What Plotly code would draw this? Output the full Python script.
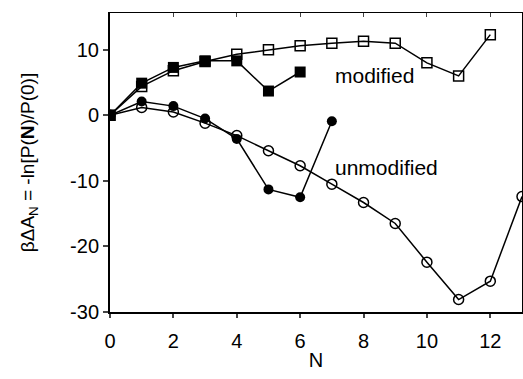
import plotly.graph_objects as go

N_mod_open = list(range(0, 13))
mod_open = [0, 4.4, 6.8, 8.2, 9.3, 10.0, 10.6, 11.0, 11.3, 11.0, 8.0, 6.0, 12.3]

N_mod_fill = list(range(0, 7))
mod_fill = [0, 4.9, 7.3, 8.3, 8.3, 3.7, 6.6]

N_unmod_open = list(range(0, 14))
unmod_open = [0, 1.2, 0.5, -1.2, -3.1, -5.4, -7.7, -10.5, -13.3, -16.5, -22.4, -28.1, -25.3, -12.4]

N_unmod_fill = list(range(0, 8))
unmod_fill = [0, 2.1, 1.4, -0.5, -3.6, -11.3, -12.5, -0.9]

x_ticks = [0, 2, 4, 6, 8, 10, 12]
y_ticks = [-30, -20, -10, 0, 10]
y_tick_text = ["-30", "-20", "-10", "0", "10"]

FONT = "Liberation Sans, Arial, sans-serif"
line = dict(color="black", width=1.5)

fig = go.Figure()
fig.add_trace(go.Scatter(x=N_unmod_open, y=unmod_open, mode="lines+markers", line=line,
                         marker=dict(symbol="circle-open", size=10, color="black", line=dict(width=1.5))))
fig.add_trace(go.Scatter(x=N_unmod_fill, y=unmod_fill, mode="lines+markers", line=line,
                         marker=dict(symbol="circle", size=10, color="black")))
fig.add_trace(go.Scatter(x=N_mod_open, y=mod_open, mode="lines+markers", line=line,
                         marker=dict(symbol="square-open", size=10, color="black", line=dict(width=1.5))))
fig.add_trace(go.Scatter(x=N_mod_fill, y=mod_fill, mode="lines+markers", line=line,
                         marker=dict(symbol="square", size=11, color="black")))
# invisible trace to anchor the mirror axes
fig.add_trace(go.Scatter(x=[0], y=[0], xaxis="x2", yaxis="y2", mode="markers",
                         marker=dict(opacity=0), hoverinfo="skip"))

fig.add_annotation(x=7.05, y=6.1, text="modified", showarrow=False, xanchor="left",
                   font=dict(family=FONT, size=21, color="black"))
fig.add_annotation(x=7.05, y=-7.9, text="unmodified", showarrow=False, xanchor="left",
                   font=dict(family=FONT, size=21, color="black"))

fig.update_layout(
    width=523, height=379,
    margin=dict(l=110, r=1, t=13, b=67),
    plot_bgcolor="white", paper_bgcolor="white",
    showlegend=False,
    font=dict(family=FONT, size=20, color="black"),
    xaxis=dict(range=[0, 13], tickvals=x_ticks, ticks="outside", ticklen=4, tickwidth=1.5,
               tickfont=dict(size=20), ticklabelstandoff=6,
               showline=True, linewidth=2, linecolor="black", showgrid=False, zeroline=False,
               title=dict(text="N", standoff=2, font=dict(size=20))),
    yaxis=dict(range=[-30, 15.6], tickvals=y_ticks, ticktext=y_tick_text, ticks="outside",
               ticklen=5, tickwidth=1.5, tickfont=dict(size=20),
               showline=True, linewidth=2, linecolor="black", showgrid=False, zeroline=False,
               title=dict(text="βΔA<sub>N</sub> = -ln[P(<b>N</b>)/P(0)]", standoff=30,
                          font=dict(size=19))),
    xaxis2=dict(matches="x", overlaying="x", side="top", ticks="inside", ticklen=4,
                tickvals=x_ticks, showticklabels=False, showline=True, linewidth=1,
                linecolor="black", showgrid=False, zeroline=False),
    yaxis2=dict(matches="y", overlaying="y", side="right", ticks="", showticklabels=False,
                showline=True, linewidth=1, linecolor="black", showgrid=False, zeroline=False),
)

fig.write_html("out.html")
